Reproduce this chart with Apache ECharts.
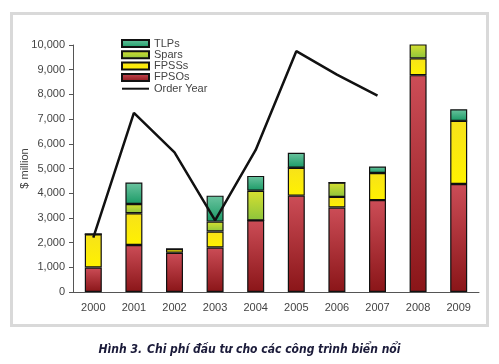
<!DOCTYPE html>
<html><head><meta charset="utf-8">
<script src="https://cdn.jsdelivr.net/npm/echarts@6/dist/echarts.min.js"></script>
<style>html,body{margin:0;padding:0;background:#fff}#frame{position:absolute;left:10px;top:12px;width:473px;height:309px;border:3px solid #d9d9d9}#c{position:absolute;left:0;top:0;width:499px;height:364px}</style>
</head><body><div id="frame"></div><div id="c"></div>
<script>
const years = ['2000','2001','2002','2003','2004','2005','2006','2007','2008','2009'];
const fpsos = [990, 1900, 1590, 1800, 2900, 3900, 3420, 3720, 8780, 4370];
const fpsss = [1350, 1290, 150, 650, 0, 1130, 430, 1100, 680, 2560];
const spars = [0, 370, 0, 400, 1200, 0, 580, 0, 650, 0];
const tlps = [0, 870, 0, 1050, 600, 610, 0, 260, 0, 470];
const orderYear = [2200, 7250, 5650, 2900, 5750, 9750, 8800, 7950, null, null];
const yTicks = [0, 10000, 1000];

const chart = echarts.init(document.getElementById('c'));
const grad = (top, bottom) => ({type:'linear', x:0, y:0, x2:0, y2:1, colorStops:[{offset:0,color:top},{offset:1,color:bottom}]});
const barBase = {type:'bar', stack:'s', barWidth:17, itemStyle:{borderColor:'#111', borderWidth:1.2}};
const font = 'Liberation Sans, Arial, sans-serif';
const capFont = 'Liberation Sans Narrow, DejaVu Sans Condensed, Liberation Sans, sans-serif';
chart.setOption({
  animation:false,
  textStyle:{fontFamily:font},
  title:{
    text:'{b|Hình 3.} {i|Chi phí đầu tư cho các công trình biển nổi}',
    left:'center', top:336,
    textStyle:{rich:{
      b:{fontFamily:capFont, fontStyle:'italic', fontWeight:'bold', fontSize:12, color:'#1b1b3a'},
      i:{fontFamily:capFont, fontStyle:'italic', fontSize:12, color:'#1b1b3a'}
    }}
  },
  legend:{
    orient:'vertical', left:116, top:33, itemGap:0.3, itemWidth:27, itemHeight:7,
    textStyle:{fontSize:11, color:'#444', fontFamily:font, lineHeight:11},
    data:[
      {name:'TLPs', icon:'rect'},
      {name:'Spars', icon:'rect'},
      {name:'FPSSs', icon:'rect'},
      {name:'FPSOs', icon:'rect'},
      {name:'Order Year', itemStyle:{opacity:0}}
    ]
  },
  grid:{left:73, top:45, width:406, bottom:72, containLabel:false},
  xAxis:{
    type:'category', data:years,
    axisLine:{lineStyle:{color:'#555'}},
    axisTick:{length:4, lineStyle:{color:'#555'}},
    axisLabel:{color:'#444', fontSize:11, margin:10}
  },
  yAxis:{
    type:'value', min:yTicks[0], max:yTicks[1], interval:yTicks[2],
    name:'$ million', nameLocation:'middle', nameGap:43, nameRotate:90, nameMoveOverlap:false,
    nameTextStyle:{color:'#444', fontSize:11},
    axisLine:{show:true, lineStyle:{color:'#555'}},
    axisTick:{show:true, length:4, lineStyle:{color:'#555'}},
    splitLine:{show:false},
    axisLabel:{color:'#444', fontSize:11, margin:8, formatter:v=>v.toLocaleString('en-US')}
  },
  series:[
    Object.assign({}, barBase, {name:'FPSOs', data:fpsos, itemStyle:Object.assign({}, barBase.itemStyle, {color:grad('#cc4d57','#8a1518')})}),
    Object.assign({}, barBase, {name:'FPSSs', data:fpsss, itemStyle:Object.assign({}, barBase.itemStyle, {color:grad('#f7e21a','#fff200')})}),
    Object.assign({}, barBase, {name:'Spars', data:spars, itemStyle:Object.assign({}, barBase.itemStyle, {color:grad('#d8e030','#8cc43c')})}),
    Object.assign({}, barBase, {name:'TLPs', data:tlps, itemStyle:Object.assign({}, barBase.itemStyle, {color:grad('#6cc4a0','#1a9a66')})}),
    {name:'Order Year', type:'line', data:orderYear, symbol:'none', connectNulls:false,
     lineStyle:{color:'#111', width:2.5}, itemStyle:{color:'#111'}, z:5}
  ]
});
</script></body></html>
